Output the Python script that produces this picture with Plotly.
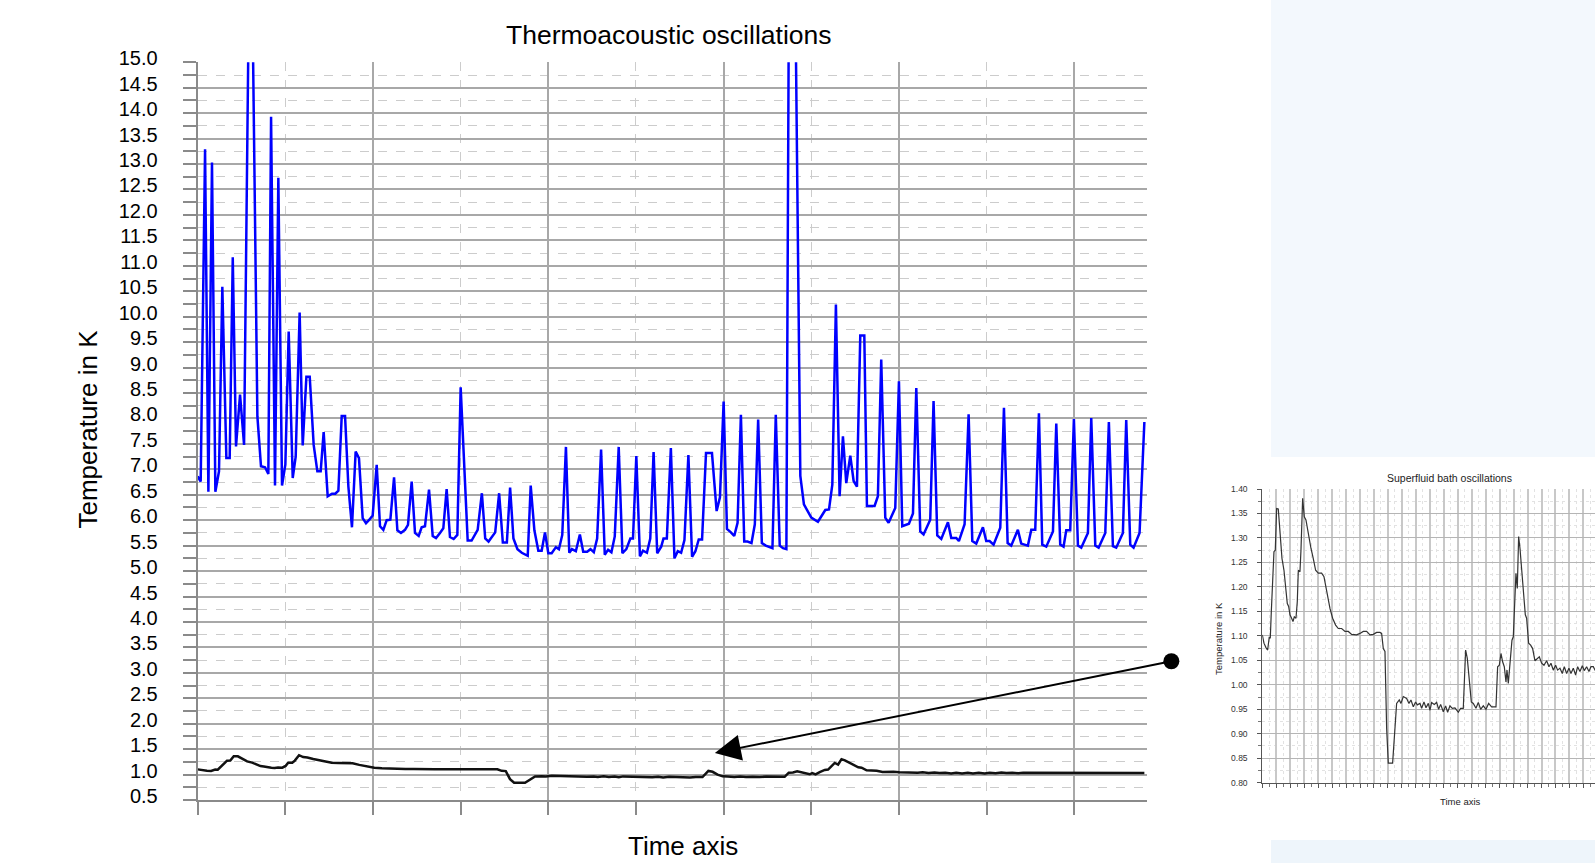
import plotly.graph_objects as go

# ---------------- data (time in grid units, temperature in K) ----------------
TITLE = "Thermoacoustic oscillations"
Y_TITLE = "Temperature in K"
X_TITLE = "Time axis"
INSET_TITLE = "Superfluid bath oscillations"

# Thermoacoustic (blue) trace
BLUE_T = [0, 0.034, 0.084, 0.122, 0.163, 0.2015, 0.243, 0.281, 0.327, 0.365, 0.40, 0.437, 0.483, 0.529,
          0.585, 0.622, 0.681, 0.722, 0.768, 0.806, 0.837, 0.882, 0.920, 0.962, 1.0, 1.038, 1.084, 1.118,
          1.163, 1.198, 1.240, 1.278, 1.323, 1.365, 1.403, 1.437, 1.483, 1.532, 1.570, 1.605, 1.643, 1.681,
          1.719, 1.760, 1.802, 1.840, 1.882, 1.920, 1.958, 1.996, 2.042, 2.080, 2.118, 2.156, 2.198, 2.240,
          2.278, 2.319, 2.365, 2.399, 2.441, 2.479, 2.521, 2.555, 2.593, 2.639, 2.681, 2.719, 2.764, 2.802,
          2.840, 2.878, 2.920, 2.962, 3.0, 3.080, 3.125, 3.194, 3.242,
          3.280, 3.318, 3.394, 3.439, 3.481, 3.527, 3.564, 3.602, 3.648, 3.697, 3.765, 3.799, 3.841, 3.886,
          3.924, 3.962, 4.0, 4.038, 4.087, 4.121, 4.159, 4.201, 4.239, 4.269, 4.314, 4.360, 4.398, 4.443,
          4.481, 4.519, 4.557, 4.602, 4.644, 4.682, 4.720, 4.758, 4.803, 4.845, 4.890, 4.936, 4.966, 5.004,
          5.045, 5.080, 5.125, 5.163, 5.201, 5.242, 5.288, 5.314, 5.352, 5.398, 5.439, 5.477, 5.515, 5.553,
          5.598, 5.640, 5.678, 5.716, 5.754, 5.799, 5.867, 5.920, 5.958, 6.0, 6.038, 6.083, 6.121, 6.159,
          6.197, 6.235, 6.273, 6.318, 6.356, 6.394, 6.436, 6.481, 6.519, 6.557, 6.595, 6.640, 6.678, 6.716,
          6.745, 6.817, 6.875, 6.916, 7.0, 7.076, 7.160, 7.202, 7.240, 7.281, 7.323, 7.361, 7.399, 7.445,
          7.483, 7.521, 7.559, 7.605, 7.635, 7.722, 7.760, 7.798, 7.844, 7.882, 7.958, 8.0, 8.038, 8.114,
          8.160, 8.198, 8.243, 8.281, 8.357, 8.395, 8.437, 8.483, 8.559, 8.597, 8.654, 8.684, 8.749, 8.795,
          8.837, 8.882, 8.958, 8.996, 9.034, 9.080, 9.156, 9.198, 9.240, 9.281, 9.357, 9.395, 9.471, 9.510,
          9.555, 9.597, 9.635, 9.681, 9.757, 9.795, 9.840, 9.878, 9.909, 9.954, 9.996, 10.042, 10.080,
          10.156, 10.194, 10.240, 10.278, 10.354, 10.395, 10.441, 10.479, 10.555, 10.593, 10.639, 10.677,
          10.745, 10.8]
BLUE_K = [6.86, 6.76, 13.29, 6.56, 13.03, 6.56, 6.96, 10.59, 7.22, 7.22, 11.17, 7.45, 8.47, 7.48,
          16.5, 16.5, 8.04, 7.06, 7.04, 6.91, 13.93, 6.68, 12.73, 6.68, 7.09, 9.71, 6.83, 7.25,
          10.08, 7.47, 8.82, 8.82, 7.48, 6.96, 6.96, 7.73, 6.47, 6.52, 6.52, 6.58, 8.05, 8.05,
          6.66, 5.86, 7.35, 7.22, 6.04, 5.94, 6.01, 6.09, 7.09, 5.88, 5.81, 6.0, 6.01, 6.84,
          5.80, 5.75, 5.81, 5.91, 6.76, 5.75, 5.69, 5.86, 5.88, 6.60, 5.69, 5.65, 5.75, 5.84,
          6.61, 5.67, 5.63, 5.71, 8.61, 5.60, 5.60, 5.81, 6.53,
          5.64, 5.58, 5.76, 6.53, 5.56, 5.56, 6.64, 5.64, 5.43, 5.36, 5.30, 6.68, 5.80, 5.40,
          5.40, 5.76, 5.35, 5.35, 5.47, 5.43, 5.71, 7.44, 5.36, 5.43, 5.39, 5.72, 5.38, 5.38,
          5.43, 5.37, 5.64, 7.39, 5.32, 5.42, 5.37, 5.68, 7.44, 5.35, 5.43, 5.64, 5.64, 7.26,
          5.29, 5.40, 5.36, 5.64, 7.34, 5.35, 5.48, 5.64, 5.64, 7.42, 5.25, 5.39, 5.36, 5.61,
          7.28, 5.28, 5.39, 5.62, 5.62, 7.32, 7.32, 6.18, 6.45, 8.33, 5.83, 5.76, 5.69, 5.95,
          8.07, 5.58, 5.58, 5.55, 5.92, 7.98, 5.55, 5.50, 5.47, 5.45, 8.07, 5.50, 5.45, 5.43,
          16.5, 16.5, 6.87, 6.31, 6.05, 5.97, 6.20, 6.21, 6.70, 10.24, 6.47, 7.65, 6.73, 7.27,
          6.77, 6.66, 9.63, 9.63, 6.28, 6.28, 6.47, 9.16, 6.05, 5.95, 6.24, 8.73, 5.88, 5.93,
          6.13, 8.60, 5.78, 5.72, 6.01, 8.34, 5.70, 5.63, 5.96, 5.65, 5.65, 5.59, 5.92, 8.08,
          5.59, 5.54, 5.86, 5.59, 5.59, 5.52, 5.85, 8.21, 5.55, 5.50, 5.81, 5.54, 5.50, 5.81,
          5.81, 8.10, 5.52, 5.48, 5.78, 7.90, 5.52, 5.48, 5.80, 5.80, 7.99, 5.50, 5.46,
          5.75, 8.01, 5.50, 5.46, 5.75, 7.93, 5.49, 5.46, 5.75, 7.97, 5.52, 5.46,
          5.75, 7.93]

# Superfluid bath (black) trace, shown in the main chart and in the inset
BATH_T = [0, 0.048, 0.105, 0.153, 0.20, 0.229, 0.258, 0.296, 0.334, 0.372, 0.411, 0.458, 0.506, 0.564,
          0.621, 0.659, 0.716, 0.755, 0.793, 0.840, 0.879, 0.917, 0.965, 1.003, 1.032, 1.079, 1.108, 1.156,
          1.203, 1.251, 1.318, 1.394, 1.461, 1.528, 1.605, 1.700, 1.767, 1.843, 1.939, 2.015, 2.101, 2.178,
          2.273, 2.369, 2.464, 2.560, 2.703, 2.798, 2.894, 2.989, 3.085, 3.180, 3.276, 3.372, 3.419, 3.467,
          3.515, 3.563, 3.610, 3.734, 3.782, 3.849, 3.925, 3.973, 4.040, 4.136, 4.202, 4.260, 4.327, 4.393,
          4.441, 4.518, 4.565, 4.632, 4.690, 4.757, 4.805, 4.852, 4.928, 4.995, 5.052, 5.110, 5.186, 5.253,
          5.310, 5.377, 5.444, 5.520, 5.616, 5.683, 5.759, 5.826, 5.874, 5.931, 5.989, 6.046, 6.122, 6.189,
          6.256, 6.332, 6.409, 6.485, 6.571, 6.696, 6.743, 6.791, 6.839, 6.886, 6.934, 6.982, 7.011, 7.049,
          7.096, 7.154, 7.192, 7.240, 7.268, 7.306, 7.345, 7.383, 7.431, 7.478, 7.536, 7.574, 7.631, 7.689,
          7.746, 7.813, 7.880, 7.937, 8.004, 8.071, 8.147, 8.214, 8.271, 8.338, 8.405, 8.462, 8.529, 8.596,
          8.653, 8.720, 8.786, 8.844, 8.911, 8.978, 9.035, 9.102, 9.169, 9.226, 9.293, 9.360, 9.417, 9.484,
          9.55, 9.62, 9.69, 9.76, 9.83, 9.90, 9.97, 10.04, 10.11, 10.18, 10.25, 10.32, 10.39, 10.46, 10.53,
          10.60, 10.67, 10.74, 10.8]
BATH_K = [1.102, 1.085, 1.076, 1.071, 1.098, 1.095, 1.149, 1.207, 1.272, 1.275, 1.360, 1.359, 1.316, 1.258,
          1.234, 1.211, 1.166, 1.160, 1.143, 1.136, 1.129, 1.139, 1.136, 1.170, 1.234, 1.231, 1.275, 1.381,
          1.343, 1.337, 1.306, 1.279, 1.258, 1.234, 1.228, 1.228, 1.221, 1.190, 1.156, 1.136, 1.122, 1.115,
          1.115, 1.109, 1.109, 1.103, 1.102, 1.105, 1.109, 1.109, 1.102, 1.103, 1.107, 1.107, 1.105, 1.074,
          1.068, 0.911, 0.840, 0.840, 0.894, 0.962, 0.969, 0.962, 0.976, 0.972, 0.962, 0.969, 0.955, 0.965,
          0.959, 0.962, 0.952, 0.965, 0.953, 0.962, 0.948, 0.964, 0.960, 0.964, 0.950, 0.960, 0.945, 0.957,
          0.944, 0.957, 0.952, 0.953, 0.944, 0.952, 0.952, 1.071, 1.054, 1.000, 0.965, 0.962, 0.952, 0.964,
          0.950, 0.957, 0.950, 0.962, 0.955, 0.955, 1.037, 1.040, 1.064, 1.047, 1.037, 1.006, 1.030, 1.003,
          1.047, 1.091, 1.098, 1.190, 1.228, 1.197, 1.303, 1.279, 1.238, 1.197, 1.143, 1.136, 1.085, 1.081,
          1.074, 1.049, 1.053, 1.057, 1.044, 1.040, 1.049, 1.037, 1.044, 1.030, 1.040, 1.030, 1.034, 1.023,
          1.037, 1.023, 1.034, 1.023, 1.034, 1.020, 1.037, 1.027, 1.039, 1.029, 1.037, 1.027, 1.037, 1.037,
          1.028, 1.040, 1.027, 1.038, 1.026, 1.037, 1.028, 1.039, 1.027, 1.036, 1.026, 1.038, 1.028, 1.037, 1.026,
          1.036, 1.028, 1.037, 1.032]

MAIN_Y_RANGE = [0.5, 15.0]
MAIN_X_RANGE = [0, 10.83]
INSET_Y_RANGE = [0.80, 1.40]
INSET_X_RANGE = [0, 9.533]
ARROW_TIP = (5.90, 1.425)

# ---------------- figure ----------------
W, H = 1595, 863
FONT = "Liberation Sans, Arial, sans-serif"


def fx(p):
    return p / W


def fy(p):
    return 1 - p / H


fig = go.Figure()
fig.add_trace(go.Scatter(x=BLUE_T, y=BLUE_K, mode="lines", line=dict(color="#0000ff", width=2.5),
                         xaxis="x", yaxis="y", hoverinfo="skip", showlegend=False))
fig.add_trace(go.Scatter(x=BATH_T, y=BATH_K, mode="lines", line=dict(color="#111111", width=2.5),
                         xaxis="x", yaxis="y", hoverinfo="skip", showlegend=False))
fig.add_trace(go.Scatter(x=BATH_T, y=BATH_K, mode="lines", line=dict(color="#333333", width=1.2),
                         xaxis="x2", yaxis="y2", hoverinfo="skip", showlegend=False))

GRID_SOLID = "#a8a8a8"
GRID_DASH = "#cccccc"
AXIS_COL = "#8a8a8a"

fig.update_layout(
    template="none",
    width=W, height=H, autosize=False,
    margin=dict(l=0, r=0, t=0, b=0, pad=0, autoexpand=False),
    paper_bgcolor="white", plot_bgcolor="rgba(0,0,0,0)",
    font=dict(family=FONT, color="black"),
    xaxis=dict(domain=[fx(197.7), fx(1147)], range=MAIN_X_RANGE, anchor="y", automargin=False,
               tick0=0, dtick=2, showticklabels=False, ticks="outside", ticklen=13,
               tickcolor=AXIS_COL, tickwidth=1.5,
               showgrid=True, gridcolor=GRID_SOLID, gridwidth=2,
               minor=dict(tick0=0, dtick=1, ticks="outside", ticklen=13, tickcolor=AXIS_COL, tickwidth=1.5,
                          showgrid=True, gridcolor=GRID_DASH, gridwidth=1, griddash="dash"),
               showline=True, linecolor=AXIS_COL, linewidth=2, zeroline=False, fixedrange=True),
    yaxis=dict(domain=[fy(800), fy(62.3)], range=MAIN_Y_RANGE, anchor="x", automargin=False,
               tick0=0, dtick=0.5, tickformat=".1f", ticks="outside", ticklen=13,
               tickcolor=AXIS_COL, tickwidth=1.5, ticklabelstandoff=21, ticklabelshift=-4,
               tickfont=dict(size=20, family=FONT, color="black"),
               showgrid=True, gridcolor=GRID_SOLID, gridwidth=2,
               minor=dict(tick0=0, dtick=0.25, ticks="outside", ticklen=13, tickcolor=AXIS_COL, tickwidth=1.5,
                          showgrid=True, gridcolor=GRID_DASH, gridwidth=1, griddash="dash"),
               showline=True, linecolor=AXIS_COL, linewidth=2, zeroline=False, fixedrange=True),
    xaxis2=dict(domain=[fx(1262.3), 1.0], range=INSET_X_RANGE, anchor="y2", automargin=False,
                tick0=0, dtick=0.4, showticklabels=False, ticks="outside", ticklen=4,
                tickcolor="#555", tickwidth=1,
                showgrid=True, gridcolor="#c8c8c8", gridwidth=1.5,
                minor=dict(tick0=0, dtick=0.2, ticks="outside", ticklen=3, tickcolor="#777",
                           showgrid=True, gridcolor="#e2e2e2", gridwidth=1, griddash="dot"),
                showline=True, linecolor="#555", linewidth=1, zeroline=False, fixedrange=True),
    yaxis2=dict(domain=[fy(782.7), fy(489)], range=INSET_Y_RANGE, anchor="x2", automargin=False,
                tick0=0, dtick=0.05, tickformat=".2f", ticks="outside", ticklen=4,
                tickcolor="#555", tickwidth=1, ticklabelstandoff=8,
                tickfont=dict(size=8.5, family=FONT, color="#333"),
                showgrid=True, gridcolor="#b5b5b5", gridwidth=1,
                minor=dict(tick0=0, dtick=0.025, ticks="outside", ticklen=3, tickcolor="#777",
                           showgrid=True, gridcolor="#e2e2e2", gridwidth=1, griddash="dot"),
                showline=True, linecolor="#555", linewidth=1, zeroline=False, fixedrange=True),
    shapes=[
        dict(type="rect", xref="paper", yref="paper", x0=fx(1271), x1=1.0, y0=fy(457), y1=1.0,
             fillcolor="#f3f8fd", line=dict(width=0), layer="below"),
        dict(type="rect", xref="paper", yref="paper", x0=fx(1271), x1=1.0, y0=0.0, y1=fy(840),
             fillcolor="#eef5fb", line=dict(width=0), layer="below"),
    ],
    annotations=[
        dict(text=TITLE, xref="paper", yref="paper", x=fx(668.8), y=fy(34.6), showarrow=False,
             xanchor="center", yanchor="middle", font=dict(size=26.5, family=FONT, color="black")),
        dict(text=Y_TITLE, xref="paper", yref="paper", x=fx(87.5), y=fy(429), showarrow=False,
             textangle=-90, xanchor="center", yanchor="middle", font=dict(size=26, family=FONT, color="black")),
        dict(text=X_TITLE, xref="paper", yref="paper", x=fx(683), y=fy(845.5), showarrow=False,
             xanchor="center", yanchor="middle", font=dict(size=26, family=FONT, color="black")),
        dict(text=INSET_TITLE, xref="paper", yref="paper", x=fx(1449.5), y=fy(478), showarrow=False,
             xanchor="center", yanchor="middle", font=dict(size=10.5, family=FONT, color="#222")),
        dict(text=Y_TITLE, xref="paper", yref="paper", x=fx(1218.3), y=fy(638.7), showarrow=False,
             textangle=-90, xanchor="center", yanchor="middle", font=dict(size=9.5, family=FONT, color="#222")),
        dict(text=X_TITLE, xref="paper", yref="paper", x=fx(1460), y=fy(801.7), showarrow=False,
             xanchor="center", yanchor="middle", font=dict(size=9.5, family=FONT, color="#222")),
        dict(text="", xref="x", yref="y", x=ARROW_TIP[0], y=ARROW_TIP[1], ax=458, ay=-92,
             showarrow=True, arrowhead=2, arrowsize=2.6, arrowwidth=2, arrowcolor="black",
             arrowside="end+start", startarrowhead=6, startarrowsize=2.0, standoff=0, startstandoff=0),
    ],
)

POST = (
    "document.documentElement.style.margin='0';"
    "document.documentElement.style.overflow='hidden';"
    "document.body.style.margin='0';"
    "document.body.style.padding='0';"
    "document.body.style.overflow='hidden';"
    "var gds=document.getElementsByClassName('plotly-graph-div');"
    "for(var i=0;i<gds.length;i++){gds[i].style.position='fixed';gds[i].style.top='0px';gds[i].style.left='0px';}"
)

fig.write_html("out.html", config={"displayModeBar": False, "responsive": False}, post_script=POST)
